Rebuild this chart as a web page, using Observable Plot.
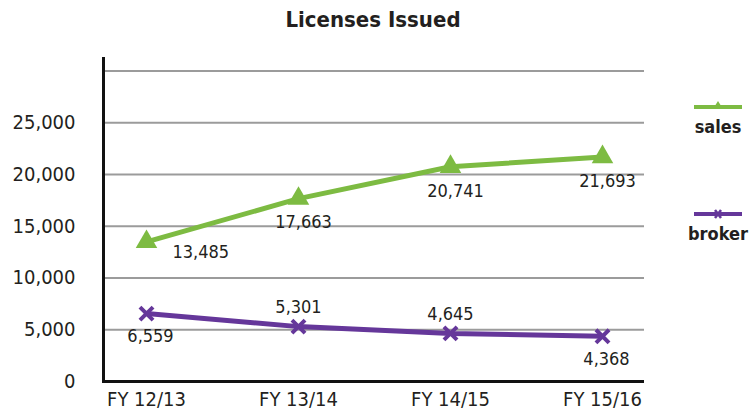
<!DOCTYPE html>
<html><head><meta charset="utf-8">
<script src="https://cdn.jsdelivr.net/npm/d3@7"></script>
<script src="https://cdn.jsdelivr.net/npm/@observablehq/plot@0.6"></script>
<style>
body{margin:0;background:#fff;font-family:"Liberation Sans Narrow","DejaVu Sans Condensed","Roboto Condensed",sans-serif;color:#231f20;}
#wrap{position:relative;width:755px;height:411px;overflow:hidden;}
#title{height:40px;line-height:40px;text-align:center;font-weight:bold;font-size:22px;width:746px;}
.leg{position:absolute;width:60px;text-align:center;font-weight:bold;font-size:18px;}
.leg svg{display:block;margin:0 auto;}
</style></head><body>
<div id="wrap">
<div id="title">Licenses Issued</div>
<div id="chart"></div>
<div class="leg" id="legSales" style="left:688px;top:98px;"><svg width="50" height="18"><line x1="1" x2="49" y1="9" y2="9" stroke="#7dbb42" stroke-width="4"/><path d="M25,3 L30,11 L20,11 Z" fill="#7dbb42"/></svg><div>sales</div></div>
<div class="leg" id="legBroker" style="left:688px;top:205px;"><svg width="50" height="18"><line x1="1" x2="49" y1="9" y2="9" stroke="#65379a" stroke-width="4"/><path d="M22,5 L28,13 M28,5 L22,13" stroke="#65379a" stroke-width="2.5"/></svg><div>broker</div></div>
</div>
<script>
const years = ["FY 12/13", "FY 13/14", "FY 14/15", "FY 15/16"];
const sales = [13485, 17663, 20741, 21693];
const broker = [6559, 5301, 4645, 4368];
const salesPlace = ["right", "below", "below", "below"];
const brokerPlace = ["below", "above", "above", "below"];
const yTicks = [0, 5000, 10000, 15000, 20000, 25000];
const gridLines = [5000, 10000, 15000, 20000, 25000, 30000];

const green = "#7dbb42", purple = "#65379a", ink = "#231f20";
const salesData = years.map((y, i) => ({year: y, value: sales[i], place: salesPlace[i]}));
const brokerData = years.map((y, i) => ({year: y, value: broker[i], place: brokerPlace[i]}));
const fmt = d3.format(",");
const lbl = {fontSize: 18, fill: ink};

const chart = Plot.plot({
  width: 755, height: 371,
  marginLeft: 103, marginRight: 111, marginTop: 18, marginBottom: 30,
  style: {fontFamily: '"Liberation Sans Narrow","DejaVu Sans Condensed","Roboto Condensed",sans-serif', background: "#fff", color: ink},
  x: {type: "point", domain: years, padding: 0.27},
  y: {domain: [0, 31200]},
  marks: [
    Plot.ruleY(gridLines, {stroke: "#9b9b9b", strokeWidth: 2}),
    Plot.axisY({ticks: yTicks, tickSize: 0, tickPadding: 28, tickFormat: fmt, fontSize: 20, label: null, fill: ink}),
    Plot.axisX({tickSize: 0, tickPadding: 10, fontSize: 20, label: null, fill: ink}),
    Plot.frame({anchor: "left", stroke: "#111", strokeWidth: 3}),
    Plot.ruleY([0], {stroke: "#111", strokeWidth: 3}),
    Plot.line(salesData, {x: "year", y: "value", stroke: green, strokeWidth: 5}),
    Plot.dot(salesData, {x: "year", y: "value", symbol: "triangle", r: 8, fill: green, stroke: null}),
    Plot.line(brokerData, {x: "year", y: "value", stroke: purple, strokeWidth: 5}),
    Plot.dot(brokerData, {x: "year", y: "value", symbol: "times", r: 6, stroke: purple, strokeWidth: 4}),
    Plot.text(salesData.filter(d => d.place === "right"), {x: "year", y: "value", text: d => fmt(d.value), textAnchor: "start", dx: 26, dy: 10, ...lbl}),
    Plot.text(salesData.filter(d => d.place === "below"), {x: "year", y: "value", text: d => fmt(d.value), dx: 5, dy: 24, ...lbl}),
    Plot.text(brokerData.filter(d => d.place === "below"), {x: "year", y: "value", text: d => fmt(d.value), dx: 4, dy: 23, ...lbl}),
    Plot.text(brokerData.filter(d => d.place === "above"), {x: "year", y: "value", text: d => fmt(d.value), dx: 0, dy: -19, ...lbl})
  ]
});
document.getElementById("chart").appendChild(chart);
</script>
</body></html>
